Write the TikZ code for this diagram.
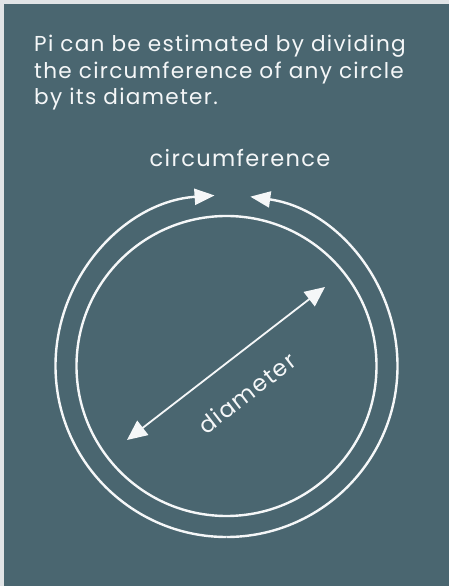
\documentclass[tikz,border=0pt]{standalone}
\usepackage{fontspec}
\setmainfont{Poppins}[LetterSpace=6]
\usetikzlibrary{arrows.meta}
\definecolor{panel}{RGB}{74,102,112}
\definecolor{edge}{RGB}{225,228,230}
\definecolor{ink}{RGB}{245,247,248}
\tikzset{
  ring/.style={draw=ink, line width=2.4pt},
  ringarrow/.style={ring, -{Triangle[length=20pt,width=16pt]}},
  diam/.style={draw=ink, line width=1.8pt, {Triangle[length=20pt,width=18pt]}-{Triangle[length=20pt,width=18pt]}},
  lbl/.style={text=ink, inner sep=0pt}
}
\begin{document}
\begin{tikzpicture}[x=1pt,y=1pt]
\useasboundingbox (0,0) rectangle (449,586);
\fill[edge] (0,0) rectangle (449,586);
\fill[panel] (4,0) rectangle (449,582);
% title
\node[lbl, anchor=base west, align=left, font=\fontsize{21.6}{26.7}\selectfont] (title) at (34,481)
  {Pi can be estimated by dividing\\the circumference of any circle\\by its diameter.};
\node[lbl, anchor=base, font=\fontsize{22.5}{24}\selectfont] (circ) at (240,419) {circumference};
% circles
\coordinate (c) at (226.5,220);
\draw[ring] (c) circle (150pt);
\draw[ringarrow] ([shift={(270:171pt)}]c) arc[start angle=270, end angle=94, radius=171pt];
\draw[ringarrow] ([shift={(-90:171pt)}]c) arc[start angle=-90, end angle=82, radius=171pt];
% diameter
\coordinate (d1) at (127,146);
\coordinate (d2) at (325,299);
\draw[diam] (d1) -- (d2);
\node[lbl, rotate=37.7, font=\fontsize{23}{24}\selectfont] (dlabel) at (247,193) {diameter};
\end{tikzpicture}
\end{document}
